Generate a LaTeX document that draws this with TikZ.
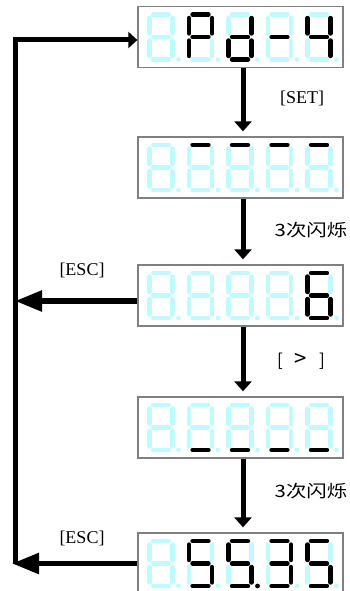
\documentclass[tikz,border=0pt]{standalone}
\usepackage{graphicx}
\usepackage{fontspec}
\setmainfont{Liberation Serif}
\newfontfamily\cjk{Noto Sans CJK SC}
\usetikzlibrary{arrows.meta}
\definecolor{segoff}{RGB}{192,250,255}

% one seven-segment digit: a b c d e f g dp (1 = lit)
\def\segdigit#1#2#3#4#5#6#7#8{%
  \draw[seg#1] (6,2.5) -- (22,2.5);
  \draw[seg#2] (25.5,6) -- (25.5,21.5);
  \draw[seg#3] (25.5,28.5) -- (25.5,44);
  \draw[seg#4] (6,47.5) -- (22,47.5);
  \draw[seg#5] (2.5,28.5) -- (2.5,44);
  \draw[seg#6] (2.5,6) -- (2.5,21.5);
  \draw[seg#7] (6,25) -- (22,25);
  \fill[dot#8] (31.5,47.5) circle (2.4);
}
% a display panel with five digits
\def\display#1#2#3#4#5#6#7{%
  \node[lcd] (#1) at (240.5,#2) {};
  \foreach \p [count=\i from 0] in {#3,#4,#5,#6,#7}
    \pic at (147+39.5*\i,#2-25) {digit=\p};
}

\tikzset{
  seg0/.style={draw=segoff, line width=4.4pt, line cap=round},
  seg1/.style={seg0, draw=black},
  dot0/.style={fill=segoff},
  dot1/.style={fill=black},
  digit/.pic={\expandafter\segdigit#1},
  lcd/.style={draw=black!50, line width=1.3pt, minimum width=205pt, minimum height=61pt, inner sep=0pt},
  downarrow/.style={line width=5pt, -{Triangle[width=17pt,length=10pt]}},
  escarrow/.style={line width=5.5pt, -{Triangle[width=20pt,length=27pt]}},
  loopline/.style={line width=5pt, -{Triangle[width=16pt,length=9pt]}},
  lbl/.style={font=\fontsize{18}{20}\selectfont, inner sep=0pt},
  cjklbl/.style={font=\cjk\fontsize{17}{20}\selectfont, inner sep=0pt},
}

\begin{document}
\begin{tikzpicture}[x=1pt, y=-1pt]
  \clip (0,0) rectangle (350,591);
  % panels
  \display{d1}{37}{00000000}{11001110}{01111010}{00000010}{01100110}
  \display{d2}{167.5}{00000000}{10000000}{10000000}{10000000}{10000000}
  \display{d3}{295.5}{00000000}{00000000}{00000000}{00000000}{10111110}
  \display{d4}{427.5}{00000000}{00010000}{00010000}{00010000}{00010000}
  \display{d5}{563.5}{00000000}{10110110}{10110111}{11110010}{10110110}
  % steps down
  \draw[downarrow] ([xshift=2.5pt]d1.south) -- ([xshift=2.5pt,yshift=5pt]d2.north);
  \draw[downarrow] ([xshift=2.5pt]d2.south) -- ([xshift=2.5pt,yshift=5pt]d3.north);
  \draw[downarrow] ([xshift=2.5pt]d3.south) -- ([xshift=2.5pt,yshift=5pt]d4.north);
  \draw[downarrow] ([xshift=2.5pt]d4.south) -- ([xshift=2.5pt,yshift=5pt]d5.north);
  \node[lbl] (set) at (302,98) {[SET]};
  \node[cjklbl] (blinka) at (311,230) {\scalebox{1.2}[1]{3次闪烁}};
  \node[cjklbl] (shift) at (301,361) {[\hspace{12pt}\scalebox{1.3}{>}\hspace{12pt}]};
  \node[cjklbl] (blinkb) at (311,491) {\scalebox{1.2}[1]{3次闪烁}};
  % return loop
  \coordinate (lt) at (15,40);
  \coordinate (lb) at (d5.west -| lt);
  \coordinate (e3) at ([yshift=-5.5pt]d3.west);
  \draw[loopline] (lb) -- (lt) -- (lt -| d1.west);
  \draw[escarrow] (e3) -- (e3 -| lt);
  \draw[escarrow] (d5.west) -- ([xshift=-3pt]lb);
  \node[lbl] (esca) at (82,270) {[ESC]};
  \node[lbl] (escb) at (82,538) {[ESC]};
\end{tikzpicture}
\end{document}
